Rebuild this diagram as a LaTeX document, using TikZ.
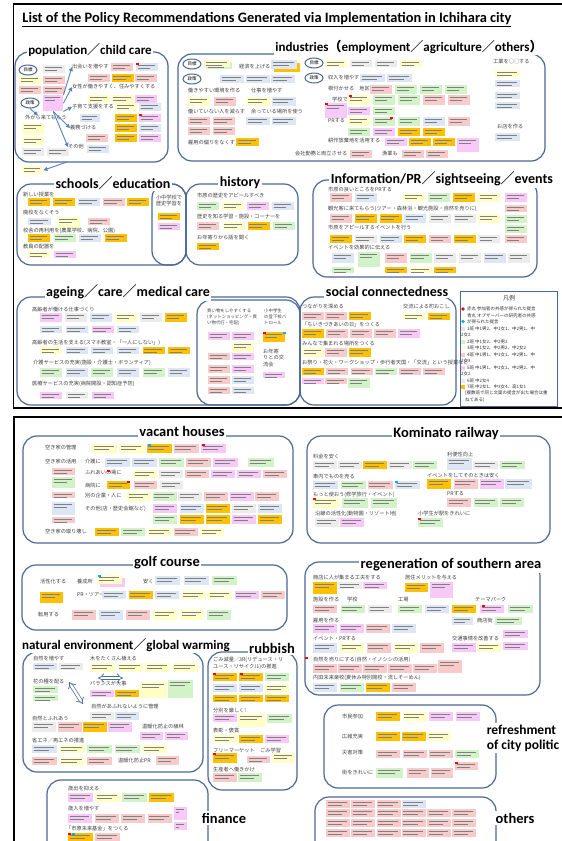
\documentclass[tikz,border=0pt]{standalone}
\usepackage{fontspec}
\setmainfont{Carlito}
\newfontfamily\jp{Noto Sans CJK JP}
\usetikzlibrary{arrows.meta,positioning,shapes.geometric}

\definecolor{boxc}{RGB}{76,104,150}
\definecolor{arrc}{RGB}{84,130,190}
\definecolor{dotb}{HTML}{00B0F0}
\definecolor{c1}{HTML}{DCE6F4}
\definecolor{c2}{HTML}{D2F2C8}
\definecolor{c3}{HTML}{FFFFC8}
\definecolor{c4}{HTML}{F9CACA}
\definecolor{c5}{HTML}{F8C8F8}
\definecolor{c6}{HTML}{ECECEC}
\definecolor{c7}{HTML}{FFC000}

% scribble that stands for the tiny text on a sticky note
\newcommand\scrib{%
  \draw[black!50, line width=0.7pt]
    ([shift={(1.5pt,-2.2pt)}]path picture bounding box.north west) -- ([shift={(-3pt,-2.2pt)}]path picture bounding box.north east)
    ([shift={(1.5pt,-4.8pt)}]path picture bounding box.north west) -- ([shift={(-8pt,-4.8pt)}]path picture bounding box.north east);}

% row of sticky notes: [options]{x}{y}{step}{colours}
\newcommand\nrow[5][]{%
  \foreach \col [count=\i from 0] in {#5} {\node[stick,\col,#1] (s\i) at ({#2+\i*#4},#3) {};}}

\begin{document}
\begin{tikzpicture}[x=1pt, y=-1pt,
    panel/.style={draw=boxc, line width=1.2pt, rounded corners=14pt},
    head/.style={font=\bfseries\fontsize{14}{14}\selectfont, fill=white, inner sep=1.5pt},
    lab/.style={font=\jp\fontsize{5.2}{6}\selectfont, text=black!75, inner sep=0pt, anchor=west},
    small/.style={font=\jp\fontsize{4.4}{5}\selectfont},
    leg/.style={font=\jp\fontsize{4.5}{5}\selectfont, text=black!80, inner sep=0pt, anchor=west},
    ov/.style={ellipse, draw=boxc, line width=1pt, minimum width=18, minimum height=10, inner sep=0pt, font=\jp\fontsize{4.5}{5}\selectfont},
    stick/.style={minimum width=22, minimum height=8, inner sep=0pt, anchor=north west, path picture={\scrib}},
    g1/.style={fill=c1}, g2/.style={fill=c2}, g3/.style={fill=c3}, g4/.style={fill=c4},
    g5/.style={fill=c5}, g6/.style={fill=c6}, g7/.style={fill=c7},
    arr/.style={draw=arrc, line width=0.9pt, -{Triangle[length=4pt,width=4pt]}},
    dbl/.style={draw=boxc, double=white, double distance=2.4pt, line width=0.7pt, {Implies}-{Implies}},
]
\useasboundingbox (0,0) rectangle (562,841);
\clip (0,0) rectangle (562,841);
\fill[white] (0,0) rectangle (562,841);

% ================= upper sheet =================
\draw[line width=1.5pt] (13.5,4) rectangle (575,408);
\node[font=\bfseries\fontsize{14.4}{15}\selectfont] (title) at (267,20)
  {\underline{List of the Policy Recommendations Generated via Implementation in Ichihara city}};

% --- population / child care ---
\draw[panel] (15,52) rectangle (168,162);
\node[head, font=\bfseries\fontsize{13}{13}\selectfont] (hpop) at (90,50) {population{\jp ／}child care};
\node[ov] (pgoal) at (28,70) {目標};
\node[ov] (ppol) at (30,103) {政策};
\node[stick,g6] (p1) at (43,65) {};
\nrow{19}{76}{24}{g3,g4}
\nrow{19}{86}{24}{g4,g4}
\node[stick,g5,minimum width=20,minimum height=16] (pblk) at (43,95) {};
\node[lab] (pdeai) at (72,67) {出会いを増やす};
\nrow{111}{63}{25}{g4,g1}
\nrow{88}{74}{23.5}{g4,g7,g4}
\node[lab] (pjosei) at (72,87) {女性が働きやすく、住みやすくする};
\nrow{88}{95}{23.5}{g3,g3,g5}
\node[lab] (pkoso) at (72,107) {子育て支援をする};
\nrow{115}{103}{24}{g3,g1}
\nrow{115}{114}{24}{g7,g5}
\nrow{115}{124}{24}{g7,g1}
\nrow{115}{134}{24}{g7,g5}
\node[stick,g1,minimum width=20] (p2) at (80,114) {};
\node[lab] (psoto) at (25,118) {外から来てもらう};
\node[stick,g3,minimum height=12] (p3) at (22,123) {};
\node[stick,g3] (p4) at (22,137) {};
\nrow{22}{148}{25}{g6,g6}
\node[lab] (pgimu) at (70,128) {義務づける};
\node[stick,g4] (p5) at (86,134) {};
\node[lab] (psono) at (68,147) {その他};
\node[stick,g1] (p6) at (87,145) {};
\draw[arr] (pblk.north east) -- (pdeai.west);
\draw[arr] (pblk.east) -- (pjosei.west);
\draw[arr] (pblk.south east) -- (pkoso.west);
\draw[arr] (ppol.south) -- ([xshift=-8pt]psoto.north);
\draw[arr] (pblk.south) -- (pgimu.west);
\draw[arr] (pblk.south) -- (psono.west);
\node[stick,g3,minimum width=21] (pout) at (22,166) {};
\coordinate (pbot) at (67,162);
\draw[arr] (pbot) -- (pout.east);

% --- industries ---
\draw[panel] (178,54) rectangle (545,161);
\node[head, font=\bfseries\fontsize{13}{13}\selectfont] (hind) at (409,47)
  {industries{\jp （}employment{\jp ／}agriculture{\jp ／}others{\jp ）}};
\node[ov] (igoal) at (192,64) {目標};
\node[stick,g2,minimum width=26,minimum height=7] (i0) at (206,62) {};
\node[stick,g3,minimum width=26,minimum height=7] (i1) at (204,60) {};
\node[lab] (ikeizai) at (239,67) {経済を上げる};
\node[stick,g7,minimum width=26,minimum height=9] (i2) at (274,63) {};
\node[stick,g1,minimum width=26,minimum height=9] (i3) at (271,60) {};
\node[ov] (ipol) at (192,79) {政策};
\nrow[minimum width=24]{220}{75}{25.5}{g1,g1,g1}
\node[lab] (ikankyo) at (188,91) {働きやすい環境を作る};
\node[lab] (ishigoto) at (251,91) {仕事を増やす};
\nrow[minimum height=9]{188}{97}{26}{g3,g4}
\nrow[minimum height=9,minimum width=24]{246}{97}{25.5}{g3,g1}
\node[lab] (iherasu) at (188,112) {働いていない人を減らす};
\node[lab] (ibasho) at (251,112) {余っている場所を使う};
\nrow{188}{117}{24.5}{g4,g4}
\nrow[minimum width=24]{246}{117}{25.5}{g1,g1}
\nrow{188}{127}{24.5}{g4,g4}
\node[lab] (ikoyo) at (188,143) {雇用の偏りをなくす};
\node[stick,g7,minimum width=23] (i4) at (236,138) {};
\node[ov] (igoal2) at (314,63) {目標};
\nrow[minimum height=7]{325}{60}{25}{g3,g6,g6,g3}
\node[ov] (ipol2) at (314,78) {政策};
\node[lab] (ishunyu) at (328,78) {収入を増やす};
\nrow[minimum width=25]{360}{74}{27}{g1,g1}
\node[lab] (inetsuku) at (328,89) {根付かせる　地区に};
\nrow[minimum height=9]{370}{85}{25}{g4,g2,g2,g2}
\node[lab] (igakko) at (332,100) {学校で};
\nrow[minimum height=10]{348}{95}{25}{g3,g2,g2,g4,g4}
\node[stick,g5,minimum height=15] (i5) at (325,103) {};
\nrow{348}{107}{25}{g5,g2}
\node[lab] (ipr) at (328,121) {PRする};
\nrow[minimum height=9]{348}{117}{25}{g3,g2,g2,g1,g4}
\nrow{348}{128}{25}{g2,g5,g7,g7}
\node[lab] (ikosaku) at (328,141) {耕作放棄地を活用する};
\nrow{385}{138}{24}{g5,g7,g7}
\node[stick,g5,minimum height=14] (i6) at (457,138) {};
\node[lab] (iryoritsu) at (295,154) {会社勤務と両立させる};
\node[stick,g4] (i7) at (350,150) {};
\node[lab] (igyogyo) at (382,154) {漁業も};
\nrow{402}{150}{24}{g4,g4}
\node[lab] (ikogyo) at (493,62) {工業を○○する};
\node[stick,g3,minimum width=25,minimum height=7] (i8) at (495,70) {};
\node[stick,g1,minimum width=25,minimum height=7] (i9) at (495,80) {};
\node[stick,g1,minimum width=25,minimum height=7] (i10) at (495,92) {};
\node[stick,g1,minimum width=25,minimum height=7] (i11) at (495,102) {};
\node[lab] (imise) at (497,127) {お店を作る};
\node[stick,g1,minimum width=25] (i12) at (495,133) {};

% --- schools / education, history ---
\draw[panel] (17,184) rectangle (186,265);
\draw[panel] (152,184) rectangle (186,265);
\draw[panel] (186,184) rectangle (298,265);
\node[head] (hsch) at (113,183) {schools{\jp ／}education};
\node[head] (hhis) at (240,183) {history};
\node[lab] (snew) at (23,195) {新しい授業を};
\nrow{28}{198}{24.8}{g7,g7,g1,g4,g7}
\node[lab] (shaiko) at (23,213) {廃校をなくそう};
\node[stick,g1,minimum width=23,minimum height=7] (s1) at (28,218) {};
\node[stick,g3,minimum width=23,minimum height=11] (s2) at (57,217) {};
\node[stick,g4,minimum height=7] (s3) at (88,218) {};
\node[lab] (skosha) at (23,231) {校舎の再利用を(農業学校、病院、公園)};
\nrow{28}{234}{25.5}{g7,g2,g1,g7}
\node[lab] (skyoin) at (23,247) {教員の配置を};
\nrow[minimum height=7]{28}{251}{26}{g3,g5}
\node[lab, anchor=center] (ssho1) at (169,198) {小中学校で};
\node[lab, anchor=center] (ssho2) at (169,204) {歴史学習を};
\node[stick,g7,minimum height=7] (s4) at (158,213) {};
\node[stick,g5,minimum height=7] (s5) at (158,223) {};
\node[lab] (hap) at (197,196) {市原の歴史をアピールすべき};
\nrow{197}{202}{25}{g2,g3,g5,g1}
\node[lab] (hgaku) at (197,217) {歴史を知る学習・施設・コーナーを};
\nrow{197}{222}{25.3}{g4,g3,g7,g2}
\node[lab] (hold) at (197,238) {お年寄りから話を聞く};
\node[stick,g7,minimum height=7] (h1) at (197,243) {};

% --- information / PR ---
\draw[panel] (313,180) rectangle (537,277);
\node[head] (hinf) at (442,179) {Information/PR{\jp ／}sightseeing{\jp ／}events};
\node[lab] (fyoi) at (328,190) {市原の良いところをPRする};
\nrow[minimum height=9]{330}{193}{25}{g4,g1}
\nrow[minimum height=9]{403}{193}{25}{g3,g2,g7,g3}
\node[stick,g5,minimum height=9] (f1) at (505,193) {};
\node[lab] (fkanko) at (328,209) {観光客に来てもらう(ツアー・森林浴・観光施設・自然を売りに)};
\nrow[minimum height=9]{330}{214}{24.7}{g4,g7,g7,g1,g6,g6,g3}
\node[stick,g4,minimum height=7] (f2) at (505,205) {};
\node[stick,g2] (f3) at (505,215) {};
\node[lab] (fevent) at (328,228) {市原をアピールするイベントを行う};
\nrow{330}{235}{24.7}{g7,g6,g1,g7,g4,g7,g6}
\node[stick,g2] (f4) at (505,225) {};
\node[stick,g4] (f5) at (505,235) {};
\node[lab] (fden) at (328,248) {イベントを効果的に伝える};
\node[stick,g1,minimum height=10] (f6) at (332,253) {};
\node[stick,g2,minimum height=15] (f7) at (358,252) {};
\nrow[minimum height=10]{385}{253}{24.6}{g4,g2,g6,g6,g1,g6}
\node[stick,g2,minimum height=6] (f8) at (332,267) {};
\nrow[minimum height=6]{385}{267}{24.6}{g7,g3,g7}

% --- ageing / care / medical care ---
\draw[panel] (17,297) rectangle (300,405);
\draw[panel] (197,300) rectangle (300,405);
\node[head] (hage) at (128,292) {ageing{\jp ／}care{\jp ／}medical care};
\node[lab] (aha) at (32,310) {高齢者が働ける仕事づくり};
\nrow[minimum height=9]{40}{313}{25}{g5,g6,g1,g3,g6,g7}
\nrow[minimum height=7]{40}{326}{25.7}{g1,g1,g5,g1}
\node[lab] (asei) at (32,343) {高齢者の生活を支える(スマホ教室・「一人にしない」)};
\nrow[minimum height=7]{40}{347}{25.6}{g3,g1,g1,g1,g7,g7}
\node[lab] (akai) at (33,363) {介護サービスの充実(施設・介護士・ボランティア)};
\nrow[minimum height=9]{40}{368}{25.6}{g2,g1,g2,g1,g2,g1}
\node[lab] (airyo) at (32,384) {医療サービスの充実(病院開設・認知症予防)};
\nrow[minimum height=7]{40}{392}{26}{g5,g6,g5}
\node[lab, small] (akaim1) at (207,311) {買い物をしやすくする};
\node[lab, small] (akaim2) at (207,317) {(ネットショッピング・買};
\node[lab, small] (akaim3) at (207,323) {い物代行・宅配)};
\node[lab, small] (apat1) at (264,311) {小中学生};
\node[lab, small] (apat2) at (264,317) {の登下校パ};
\node[lab, small] (apat3) at (264,323) {トロール};
\nrow{208}{332}{24}{g5,g5}
\node[stick,g3,minimum height=10] (a1) at (232,342) {};
\nrow[minimum height=7]{208}{353}{24}{g4,g5}
\nrow{208}{365}{24}{g4,g5}
\nrow{208}{376}{24}{g4,g1}
\nrow[minimum height=7]{208}{387}{24}{g4,g1}
\node[stick,g7,minimum height=10] (a2) at (263,332) {};
\node[lab] (aold1) at (263,352) {お年寄};
\node[lab] (aold2) at (263,358) {りとの交};
\node[lab] (aold3) at (263,365) {流会};
\node[stick,g5,minimum height=6] (a3) at (263,372) {};

% --- social connectedness ---
\draw[panel] (300,297) rectangle (456,405);
\node[head] (hsoc) at (387,292) {social connectedness};
\node[lab] (ctsu) at (302,307) {つながりを深める};
\nrow{302}{312}{23.2}{g4,g4,g7}
\node[lab] (cmachi) at (403,307) {交流による町おこし};
\nrow[minimum height=7]{403}{313}{25}{g3,g7}
\node[lab] (chi) at (302,325) {「ちいきづきあいの日」をつくる};
\nrow[minimum height=9]{302}{329}{24}{g7,g4,g4,g4,g5}
\node[lab] (cbasho) at (302,344) {みんなで集まれる場所をつくる};
\nrow[minimum height=9]{302}{348}{23.2}{g3,g4,g7}
\node[lab] (cmatsuri) at (302,363) {お祭り・花火・ワークショップ・歩行者天国・「交流」という授業など};
\nrow[minimum height=7]{302}{368}{24.2}{g7,g4,g4,g2,g4,g4}
\nrow[minimum height=6]{302}{378}{23.2}{g5,g4}
\node[stick,g2,minimum height=10] (c1n) at (348,378) {};

% --- legend ---
\draw[boxc, line width=1pt] (460,291) rectangle (557,406);
\node[leg, anchor=center, font=\jp\fontsize{6}{6}\selectfont] (lgt) at (509,298) {凡例};
\fill[red] (463,309) circle (1.8);
\node[leg] (lg1) at (467,309) {赤丸 参加者の共感が得られた提言};
\node[leg] (lg2) at (467,315.5) {青丸 オブザーバーの研究者の共感};
\fill[dotb] (463,321.5) circle (1.8);
\node[leg] (lg3) at (467,322) {が得られた提言};
\fill[c1] (461,326.5) rectangle (465,330.5);
\node[leg] (lg4) at (467,328.5) {1班 中1男2、中1女1、中2男1、中};
\node[leg] (lg4b) at (461,335) {2女2};
\fill[c2] (461,339.5) rectangle (465,343.5);
\node[leg] (lg5) at (467,341.5) {2班 中1女2、中2男2};
\fill[c3] (461,346) rectangle (465,350);
\node[leg] (lg6) at (467,348) {3班 中1女2、中2男2、中2女2};
\fill[c4] (461,352.5) rectangle (465,356.5);
\node[leg] (lg7) at (467,354.5) {4班 中1男1、中1女1、中2男1、中};
\node[leg] (lg7b) at (461,361) {2女3};
\fill[c5] (461,365.5) rectangle (465,369.5);
\node[leg] (lg8) at (467,367.5) {5班 中1男1、中1女1、中2男2、中};
\node[leg] (lg8b) at (461,374) {2女2};
\fill[c6] (461,378.5) rectangle (465,382.5);
\node[leg] (lg9) at (467,380.5) {6班 中2女4};
\fill[c7] (461,385) rectangle (465,389);
\node[leg] (lg10) at (467,387) {7班 中2女1、中3女4、高1女1};
\node[leg] (lg11) at (465,393.5) {(複数班で同じ文面の提言が出た場合は重};
\node[leg] (lg12) at (465,400) {ねてある)};

% ================= lower sheet =================
\draw[line width=2pt] (13.5,416.5) rectangle (575,860);

% --- vacant houses ---
\draw[panel] (23,436) rectangle (293,543);
\node[head, font=\bfseries\fontsize{14.5}{15}\selectfont] (hvac) at (182,431) {vacant houses};
\node[lab] (vkanri) at (45,448) {空き家の管理};
\nrow[minimum height=9,minimum width=25]{92}{444}{27.2}{g3,g3,g7,g4,g5}
\node[lab] (vkatsu) at (45,462) {空き家の活用};
\node[lab] (vkaigo) at (85,462) {介護に};
\nrow[minimum height=9,minimum width=25]{105}{458}{27}{g1,g1,g2,g4,g5}
\node[stick,g2,minimum width=26,minimum height=9] (v1) at (248,458) {};
\node[lab] (vfure) at (85,473) {ふれあいの場に};
\nrow[minimum width=24]{133}{470}{26}{g3,g6,g4,g5,g5,g4}
\node[lab] (vbyoin) at (85,486) {病院に};
\nrow[minimum width=23]{107}{481}{26.5}{g7,g4,g6}
\node[lab] (vbetsu) at (85,496) {別の企業・人に};
\nrow[minimum height=9,minimum width=24]{127}{492}{25.6}{g3,g2,g6,g4,g5,g4}
\node[lab] (vsonota) at (85,509) {その他(店・歴史会館など)};
\nrow[minimum height=9,minimum width=24]{153}{504}{26.3}{g5,g1,g7,g6,g1}
\nrow[minimum height=9,minimum width=24]{153}{515}{26.3}{g2,g7,g7,g5,g7}
\node[stick,g4,minimum width=23,minimum height=7] (v2) at (52,468) {};
\node[stick,g2,minimum width=23,minimum height=11] (v3) at (52,477) {};
\node[stick,g4,minimum width=23,minimum height=6] (v4) at (52,492) {};
\node[stick,g1,minimum width=23,minimum height=13] (v5) at (52,502) {};
\node[stick,g4,minimum width=23,minimum height=6] (v6) at (52,517) {};
\node[lab] (vkowashi) at (45,532) {空き家の取り壊し};
\nrow[minimum width=24]{95}{528}{26.2}{g7,g2,g3,g4,g3}

% --- Kominato railway ---
\draw[panel] (307,436) rectangle (550,543);
\node[head, font=\bfseries\fontsize{14.5}{15}\selectfont] (hkom) at (446,434) {Kominato railway};
\node[lab] (kryo) at (313,457) {料金を安く};
\nrow[minimum width=24]{313}{461}{25}{g6,g6,g7,g6,g2}
\node[lab] (kben) at (447,455) {利便性向上};
\node[stick,g1,minimum width=25,minimum height=12] (k1) at (447,458) {};
\nrow[minimum width=25]{473}{461}{27}{g6,g2}
\node[lab] (kshanai) at (313,477) {車内でものを売る};
\nrow[minimum width=25]{313}{481}{27.3}{g1,g2,g4,g1}
\node[lab] (kevent) at (427,476) {イベントをしてそのときは安く};
\nrow[minimum height=10,minimum width=24]{427}{479}{26.3}{g7,g4,g5}
\node[stick,g1,minimum width=27,minimum height=10] (k2) at (505,479) {};
\node[lab] (kmotto) at (313,495) {もっと使おう(修学旅行・イベント)};
\nrow[minimum height=10,minimum width=26]{313}{498}{29}{g3,g2,g2}
\node[lab] (kpr) at (447,494) {PRする};
\nrow[minimum height=9,minimum width=24]{447}{498}{26.5}{g4,g2,g2}
\node[lab] (kensen) at (315,514) {沿線の活性化(動物園・リゾート地)};
\nrow[minimum height=9,minimum width=24]{315}{518}{25}{g6,g5}
\node[lab] (keki) at (418,514) {小学生が駅をきれいに};
\node[stick,g2,minimum width=25,minimum height=9] (k3) at (418,518) {};

% --- golf course ---
\draw[panel] (22,565) rectangle (287,630);
\node[head, font=\bfseries\fontsize{14.5}{15}\selectfont] (hgolf) at (167,563) {golf course};
\node[lab] (gkassei) at (40,582) {活性化する};
\node[lab] (gyosei) at (77,582) {養成所};
\node[stick,g5,minimum width=25,minimum height=9] (gf1) at (100,578) {};
\node[stick,g3,minimum width=25,minimum height=9] (gf2) at (97,575) {};
\node[lab] (gyasu) at (143,582) {安く};
\nrow[minimum height=9,minimum width=25]{155}{576}{28.5}{g1,g1,g2}
\node[stick,g7,minimum width=23,minimum height=11] (gf3) at (40,592) {};
\node[lab] (gpr) at (77,595) {PR・ツアー};
\nrow[minimum width=24]{102}{591}{26.5}{g1,g7,g1,g3,g3,g5,g4}
\node[lab] (gten) at (38,615) {転用する};
\nrow[minimum height=10,minimum width=24]{72}{610}{27}{g4,g1,g4,g3,g3,g2}

% --- regeneration of southern area ---
\draw[panel] (305,562) rectangle (540,695);
\node[head, font=\bfseries\fontsize{14.5}{15}\selectfont] (hreg) at (451,565) {regeneration of southern area};
\node[lab] (rshoten) at (313,578) {商店に人が集まる工夫をする};
\node[stick,g7,minimum width=24,minimum height=12] (r1) at (313,582) {};
\nrow[minimum width=24,minimum height=7]{338}{582}{25}{g6,g5}
\node[lab] (rkyoju) at (405,578) {居住メリットを与える};
\node[stick,g7,minimum width=23,minimum height=9] (r2) at (405,583) {};
\node[stick,g5,minimum width=23,minimum height=16] (r3) at (430,582) {};
\node[lab] (rshisetsu) at (313,600) {施設を作る};
\node[lab] (rgakko) at (347,600) {学校};
\node[lab] (rkojo) at (398,600) {工場};
\node[lab] (rtheme) at (475,600) {テーマパーク};
\nrow[minimum width=24]{313}{605}{27.5}{g4,g2,g6}
\nrow[minimum width=24]{398}{605}{27}{g2,g1}
\nrow[minimum width=24]{452}{605}{28}{g7,g5}
\node[stick,g2,minimum width=25] (r4) at (508,605) {};
\node[lab] (rkoyo) at (313,621) {雇用を作る};
\nrow[minimum height=9,minimum width=24]{313}{624}{26.3}{g5,g5,g4,g1}
\node[stick,g1,minimum width=21] (r5) at (452,617) {};
\node[lab] (rshotengai) at (477,621) {商店街};
\node[stick,g2,minimum width=27] (r6) at (495,617) {};
\node[lab] (revent) at (313,639) {イベント・PRする};
\nrow[minimum height=10,minimum width=24]{313}{643}{26.8}{g1,g3,g4,g3,g4}
\node[lab] (rkotsu) at (452,639) {交通事情を改善する};
\nrow[minimum height=9,minimum width=24]{452}{643}{25}{g5,g3}
\node[stick,g5,minimum width=25] (r7) at (503,630) {};
\node[stick,g5,minimum width=25] (r8) at (503,642) {};
\node[lab] (rshizen) at (313,660) {自然を売りにする(自然・イノシシの活用)};
\nrow[minimum height=9,minimum width=24]{313}{664}{25}{g4,g4,g4,g4,g4}
\node[stick,g4,minimum width=24,minimum height=13] (r9) at (438,660) {};
\node[lab] (ruchida) at (313,678) {内田未来楽校(夏休み特別開校・流しそーめん)};
\nrow[minimum height=9,minimum width=24]{313}{683}{26.3}{g1,g2,g7,g4}

% --- natural environment / global warming ---
\draw[panel] (23,652) rectangle (203,772);
\node[head, font=\bfseries\fontsize{13}{13}\selectfont] (hnat) at (126,645) {natural environment{\jp ／}global warming};
\node[lab] (nfuyasu) at (33,658) {自然を増やす};
\nrow[minimum width=24,minimum height=7]{33}{663}{26}{g1,g6}
\node[lab] (nki) at (90,659) {木をたくさん植える};
\nrow[minimum width=25,minimum height=9]{90}{663}{27.5}{g3,g3,g3,g3}
\node[lab] (nhana) at (33,682) {花の種を配る};
\node[stick,g2,minimum width=25,minimum height=7] (n1) at (33,686) {};
\node[stick,g2,minimum width=25,minimum height=6] (n2) at (33,695) {};
\coordinate (nb1) at (98,678);
\coordinate (nb2) at (123,678);
\draw[dbl] (nb1) -- (nb2);
\node[lab] (nbal) at (90,684) {バランスが大事};
\nrow[minimum width=24,minimum height=7]{90}{690}{25}{g5,g7}
\node[stick,g3,minimum width=27,minimum height=16] (n3) at (140,682) {};
\node[stick,g2,minimum width=25,minimum height=18] (n4) at (168,680) {};
\node[lab] (nkanri) at (91,706) {自然があふれないように管理};
\coordinate (na1) at (69,682);
\coordinate (na2) at (83,704);
\draw[dbl] (na1) -- (na2);
\nrow[minimum width=24]{90}{712}{25}{g6,g1}
\node[lab] (nfure) at (32,718) {自然とふれあう};
\nrow[minimum width=24,minimum height=10]{32}{722}{25.3}{g6,g4,g7,g5}
\node[lab] (nshoku) at (142,727) {温暖化防止の植林};
\nrow[minimum width=23]{140}{732}{25}{g5,g5}
\node[lab] (nene) at (32,741) {省エネ{\jp ／}再エネの推進};
\nrow[minimum width=25]{32}{745}{27.5}{g1,g3,g2,g2,g3}
\nrow[minimum width=25]{32}{757}{27.5}{g4,g3,g4}
\node[lab] (nprn) at (118,761) {温暖化防止PR};
\node[stick,g4,minimum width=23,minimum height=9] (n5) at (156,756) {};

% --- rubbish ---
\draw[panel] (208,652) rectangle (297,790);
\node[head, font=\bfseries\fontsize{14.5}{15}\selectfont] (hrub) at (272,648) {rubbish};
\node[lab] (ugen1) at (213,660) {ごみ減量／3R(リデュース・リ};
\node[lab] (ugen2) at (213,667) {ユース・リサイクル)の推進};
\nrow[minimum width=24]{213}{673}{26}{g7,g7,g2}
\nrow[minimum width=24]{213}{684}{26}{g1,g1,g3}
\nrow[minimum width=24,minimum height=7]{213}{695}{26}{g7,g7,g7}
\node[lab] (ubun) at (213,711) {分別を厳しく!};
\node[stick,g5,minimum width=24] (u1) at (213,714) {};
\node[stick,g3,minimum width=27,minimum height=13] (u2) at (238,714) {};
\node[stick,g2,minimum width=25,minimum height=9] (u3) at (267,714) {};
\node[lab] (uhyo) at (213,731) {表彰・褒賞};
\nrow[minimum width=24]{213}{735}{26}{g3,g7,g5}
\node[lab] (ufree) at (213,751) {フリーマーケット};
\node[lab] (ugaku) at (260,751) {ごみ学習};
\node[stick,g7,minimum width=24,minimum height=10] (u4) at (213,753) {};
\node[stick,g4,minimum width=23,minimum height=7] (u5) at (247,756) {};
\node[stick,g3,minimum width=23,minimum height=10] (u6) at (272,753) {};
\node[lab] (useisan) at (213,770) {生産者へ働きかけ};
\nrow[minimum width=24,minimum height=9]{213}{773}{25}{g4,g2}

% --- finance ---
\draw[panel] (47,780) rectangle (208,860);
\node[head, font=\bfseries\fontsize{14.5}{15}\selectfont] (hfin) at (224,818) {finance};
\node[lab] (esai) at (68,789) {歳出を抑える};
\nrow[minimum width=25,minimum height=9]{68}{793}{27}{g5,g3,g2,g7}
\node[lab] (ezai) at (68,809) {歳入を増やす};
\nrow[minimum width=24,minimum height=9]{68}{814}{26.5}{g5,g4,g4,g4}
\node[stick,g5,minimum width=13,minimum height=13] (e1) at (174,807) {};
\node[stick,g5,minimum width=13,minimum height=8] (e2) at (174,822) {};
\node[lab] (ekikin) at (66,829) {「市原未来基金」をつくる};
\nrow[minimum width=25,minimum height=10]{68}{833}{27}{g7,g4}

% --- refreshment of city politic ---
\draw[panel] (324,705) rectangle (496,788);
\node[head, font=\bfseries\fontsize{13.5}{15}\selectfont, align=left] (hpol) at (523,738) {refreshment\\of city politic};
\node[lab] (ocit) at (342,717) {市民参加};
\nrow[minimum width=24,minimum height=9]{376}{712}{26.5}{g7,g3,g5,g5}
\node[lab] (okoho) at (342,737) {広報充実};
\nrow[minimum width=24,minimum height=9]{376}{732}{25.5}{g7,g7,g3}
\node[lab] (osai) at (342,753) {災害対策};
\nrow[minimum width=24]{376}{750}{26.3}{g4,g4,g4,g2}
\node[lab] (omachi) at (342,773) {街をきれいに};
\node[stick,g2,minimum width=27,minimum height=10] (o1) at (376,768) {};
\nrow[minimum width=22,minimum height=10]{407}{768}{23.5}{g4,g4}
\node[stick,g4,minimum width=23] (o2) at (455,762) {};

% --- others ---
\draw[panel] (315,797) rectangle (496,860);
\node[head, font=\bfseries\fontsize{14.5}{15}\selectfont] (hoth) at (515,818) {others};
\nrow[minimum width=24]{326}{800}{25.2}{g4,g4,g4,g1}
\nrow[minimum width=24]{326}{809}{25.2}{g4,g4,g4,g4,g4,g4}
\nrow[minimum width=24]{326}{819}{25.2}{g4,g4,g4,g4,g4,g4}
\nrow[minimum width=24]{326}{829}{25.2}{g4,g4,g4,g4,g4,g4}

% --- red and blue marks on some notes ---
\foreach \mx/\my in {136/63, 139/114, 349/95, 325/103, 390/117, 202/444, 107/470, 127/481, 98/575, 213/673, 240/673, 213/753, 455/762, 68/833, 263/332, 313/498, 418/518, 482/605, 305/657}
  \fill[red] (\mx,\my) rectangle ++(3,2);
\foreach \mx/\my in {148/444, 98/575, 395/481, 72/833, 283/332}
  \fill[dotb] (\mx,\my) rectangle ++(3,2);
\end{tikzpicture}
\end{document}
